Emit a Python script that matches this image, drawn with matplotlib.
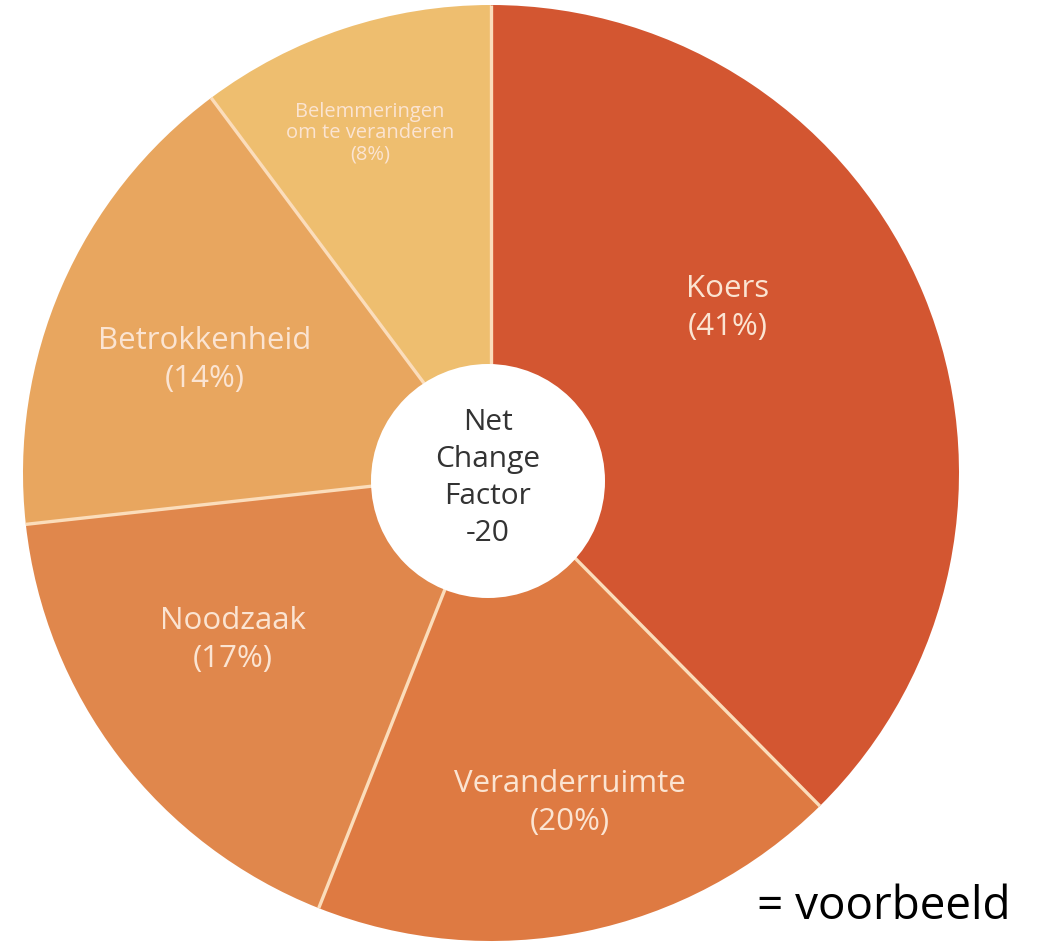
import numpy as np
import matplotlib.pyplot as plt
from matplotlib.patches import Circle

# slices clockwise from 12 o'clock
labels = ['Koers', 'Veranderruimte', 'Noodzaak', 'Betrokkenheid', 'Belemmeringen\nom te veranderen']
printed_pct = [41, 20, 17, 14, 8]
# share of the circle as actually drawn in the picture
slice_share = [37.6, 18.4, 17.25, 16.55, 10.2]
colors = ['#D35631', '#DE7A42', '#E0874C', '#E8A65F', '#EEBE6F']

# label anchor points (pixels from top-left) and font sizes
label_pos = [(728, 308), (570, 803), (233, 640), (205, 360), (370, 133)]
label_size = [22.5, 22.5, 22.5, 22.5, 14.5]

W, H = 1040, 944
cx, cy, R = 491, H - 473, 468

fig = plt.figure(figsize=(W / 100, H / 100), dpi=100)
ax = fig.add_axes([0, 0, 1, 1])

ax.pie(slice_share, colors=colors, startangle=90, counterclock=False,
       center=(cx, cy), radius=R, wedgeprops=dict(edgecolor='none', linewidth=0))
ax.set_xlim(0, W)
ax.set_ylim(0, H)
ax.set_aspect('auto')
ax.axis('off')

# light separators between slices (radial only)
bounds = 90 - 360 * np.cumsum([0] + slice_share[:-1]) / 100.0
for a in np.radians(bounds):
    ax.plot([cx, cx + R * np.cos(a)], [cy, cy + R * np.sin(a)],
            color='#FBDDBB', lw=2.4, solid_capstyle='butt', zorder=3)

ax.add_patch(Circle((488, H - 481), 117, facecolor='white', edgecolor='none', zorder=5))
ax.text(488, H - 478, 'Net\nChange\nFactor\n-20', ha='center', va='center',
        fontsize=21.5, color='#333333', family='Open Sans', linespacing=1.37, zorder=6)

for name, pct, (x, y), fs in zip(labels, printed_pct, label_pos, label_size):
    ls = 1.1 if fs < 20 else 1.35
    ax.text(x, H - y, '%s\n(%d%%)' % (name, pct), ha='center', va='center',
            fontsize=fs, color='#FBE4D2', family='Open Sans', linespacing=ls, zorder=4)

ax.text(757, H - 907, '= voorbeeld', ha='left', va='center', fontsize=33,
        color='black', family='Open Sans')

fig.savefig('out.png', dpi=100)
